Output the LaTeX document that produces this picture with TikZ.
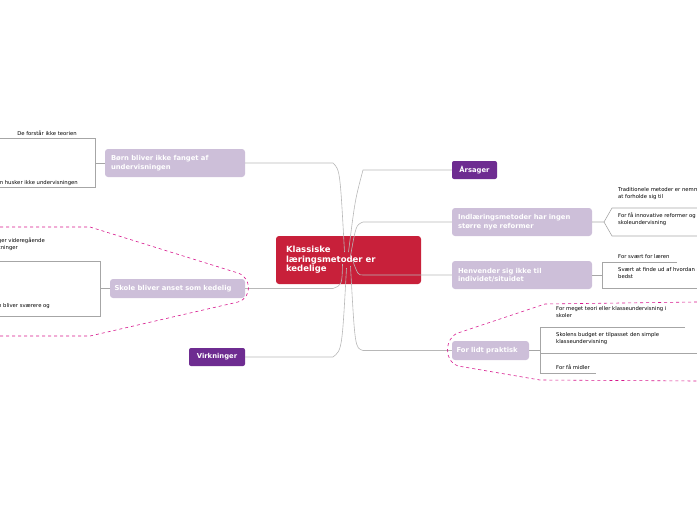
\documentclass[tikz,border=0pt]{standalone}
\usepackage{fontspec}
\setmainfont{DejaVu Sans}
\usetikzlibrary{positioning}
\definecolor{hubred}{HTML}{C8203A}
\definecolor{darkpurple}{HTML}{6E2C91}
\definecolor{lilac}{HTML}{CDBFD9}
\definecolor{linegray}{HTML}{B8B8B8}
\definecolor{dashpink}{HTML}{D6168C}
\tikzset{
  hub/.style={fill=hubred, text=white, rounded corners=3pt, font=\fontsize{8.5}{9.5}\selectfont\bfseries, align=left, inner sep=0pt},
  topic/.style={fill=lilac, text=white, rounded corners=3pt, font=\fontsize{6.8}{8.5}\selectfont\bfseries, align=left, inner sep=0pt},
  head/.style={fill=darkpurple, text=white, rounded corners=2pt, font=\fontsize{6.8}{8}\selectfont\bfseries, inner sep=0pt},
  leaf/.style={font=\fontsize{5.3}{7}\selectfont, align=left, inner sep=0pt},
  link/.style={draw=linegray, line width=0.6pt},
  brace/.style={draw=gray!70, line width=0.6pt},
  group/.style={draw=dashpink, dashed, line width=0.6pt}
}
\begin{document}
\begin{tikzpicture}[x=1pt, y=-1pt]
  \useasboundingbox (0,0) rectangle (697,520);
  \clip (0,0) rectangle (697,520);

  % hub and branch nodes
  \node[hub, minimum width=145pt, minimum height=48pt, text width=125pt] (hub) at (348.5,260) {Klassiske\\læringsmetoder er\\kedelige};
  \node[head, minimum width=45pt, minimum height=18pt] (aarsag) at (474.5,170) {Årsager};
  \node[topic, minimum width=140pt, minimum height=28pt, text width=128pt] (reform) at (522,222) {Indlæringsmetoder har ingen\\større nye reformer};
  \node[topic, minimum width=140pt, minimum height=28pt, text width=128pt] (individ) at (522,275) {Henvender sig ikke til\\individet/situidet};
  \node[topic, minimum width=77pt, minimum height=19pt, text width=68pt] (praktisk) at (490.5,350.5) {For lidt praktisk};
  \node[head, minimum width=56pt, minimum height=18pt] (virkning) at (217,357) {Virkninger};
  \node[topic, minimum width=135pt, minimum height=19pt, text width=126pt] (kedelig) at (177.5,288.5) {Skole bliver anset som kedelig};
  \node[topic, minimum width=140pt, minimum height=28pt, text width=128pt] (fanget) at (175,163) {Børn bliver ikke fanget af\\undervisningen};

  % connectors from hub
  \coordinate (rc) at (363,170);
  \draw[link] (hub.center) ++(0,-8) .. controls (355,200) .. (rc) -- (aarsag.west);
  \draw[link] (hub.center) ++(2,-4) .. controls (356,225) .. (363,222) -- (reform.west);
  \draw[link] (hub.center) ++(4,0) .. controls (358,275) .. (363,275) -- (individ.west);
  \draw[link] (hub.center) ++(2,6) .. controls (355,348) .. (363,350.5) -- (praktisk.west);
  \draw[link] (hub.center) ++(-4,-8) .. controls (340,170) .. (333,163) -- (fanget.east);
  \draw[link] (hub.center) ++(-6,4) .. controls (342,285) .. (333,288.5) -- (kedelig.east);
  \draw[link] (hub.center) ++(-2,8) .. controls (342,350) .. (333,357) -- (virkning.east);

  % leaves: Børn bliver ikke fanget
  \coordinate (fb) at (95,163);
  \draw[brace] (fanget.west) -- (fb);
  \draw[brace] (0,138) -- (95,138) -- (95,187) -- (0,187);
  \node[leaf, anchor=base] (forstaar) at (47,135) {De forstår ikke teorien};
  \node[leaf, anchor=base east] (husker) at (78,184) {Børn husker ikke undervisningen};

  % leaves: Skole bliver anset som kedelig
  \coordinate (kb) at (100,288.5);
  \draw[brace] (kedelig.west) -- (kb);
  \draw[brace] (0,261) -- (100,261) -- (100,316) -- (0,316);
  \node[leaf, anchor=base east, align=right] (vider) at (45,249) {Færre vælger videregående\\uddannelsesretninger\hspace*{27pt}};
  \node[leaf, anchor=base east] (svaer) at (50,307) {Undervisningen bliver sværere og};

  % leaves: Indlæringsmetoder
  \coordinate (rb) at (604,222);
  \draw[brace] (reform.east) -- (rb) -- (612,208) -- (697,208);
  \draw[brace] (rb) -- (612,236) -- (697,236);
  \node[leaf, anchor=base west] (nem) at (618,198) {Traditionele metoder er nemme\\at forholde sig til};
  \node[leaf, anchor=base west] (innov) at (618,224) {For få innovative reformer og\\skoleundervisning};

  % leaves: Henvender sig ikke
  \coordinate (ib) at (602,275);
  \draw[brace] (individ.east) -- (ib);
  \draw[brace] (677,262) -- (602,262) -- (602,288) -- (697,288);
  \node[leaf, anchor=base west] (laeren) at (618,258) {For svært for læren};
  \node[leaf, anchor=base west] (hvordan) at (618,278) {Svært at finde ud af hvordan man lærer\\bedst};

  % leaves: For lidt praktisk
  \coordinate (pb) at (540,350.5);
  \draw[brace] (praktisk.east) -- (pb);
  \draw[brace] (685,327) -- (540,327) -- (540,373) -- (596,373);
  \draw[brace] (540,353) -- (697,353);
  \node[leaf, anchor=base west] (teori) at (556,317) {For meget teori eller klasseundervisning i\\skoler};
  \node[leaf, anchor=base west] (budget) at (556,343) {Skolens budget er tilpasset den simple\\klasseundervisning};
  \node[leaf, anchor=base west] (midler) at (556,369) {For få midler};

  % dashed groups
  \draw[group] (0,227) -- (90,227) -- (238,273) .. controls (252,278) and (252,298) .. (238,302) -- (90,336) -- (0,336);
  \draw[group] (697,302) -- (545,304) -- (458,333) .. controls (444,338) and (444,362) .. (458,366) -- (540,380) -- (697,381);
\end{tikzpicture}
\end{document}
